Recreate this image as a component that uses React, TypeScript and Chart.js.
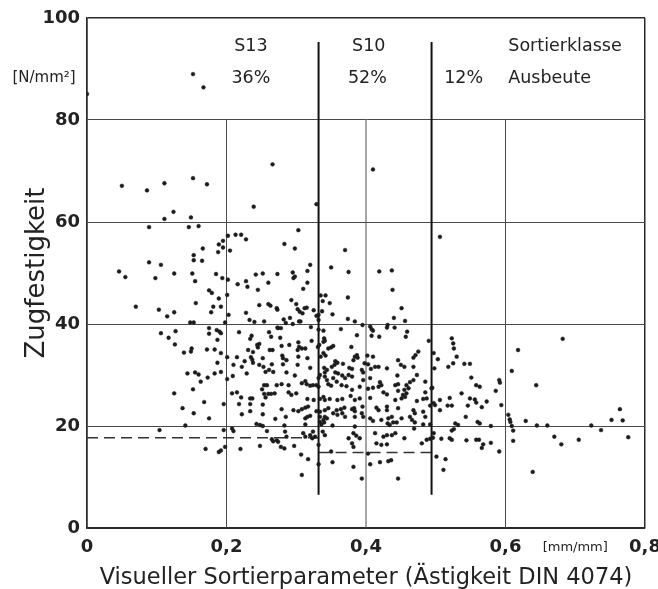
import { useEffect, useRef } from "react";
import { Chart, registerables } from "chart.js";

Chart.register(...registerables);

// ---- axis ticks ----
const xTickValues = [0, 0.2, 0.4, 0.6, 0.8];
const xTickLabels = ["0", "0,2", "0,4", "0,6", "0,8"];
const yTickValues = [0, 20, 40, 60, 80, 100];

// ---- grading classes ----
const classNames = ["S13", "S10", "Sortierklasse"];
const classYields = ["36%", "52%", "12%", "Ausbeute"];
const classBoundaries = [0.332, 0.494];
const boundaryRange = [6.5, 95.3];
const partialGridX = [0.2, 0.4, 0.6];
const partialGridTop = 80;
const limitS13 = [0, 0.332, 17.7]; // from x, to x, strength
const limitS10 = [0.332, 0.494, 14.8];

// ---- measured specimens [knot ratio, tensile strength] ----
const scatterTop: [number, number][] = [
  [0, 85.1], [0.152, 89.0], [0.167, 86.4], [0.266, 71.3], [0.41, 70.3], [0.329, 63.5], [0.239, 63.0],
  [0.05, 67.1], [0.086, 66.2], [0.111, 67.6], [0.152, 68.6], [0.172, 67.4], [0.124, 62.0], [0.111, 60.6],
  [0.149, 60.9], [0.089, 59.0], [0.146, 59.0], [0.16, 59.2], [0.303, 58.4], [0.506, 57.1], [0.202, 57.3],
  [0.213, 57.5], [0.221, 57.5], [0.228, 56.6], [0.195, 56.3], [0.189, 55.6], [0.195, 55.0], [0.166, 54.8],
  [0.188, 54.1], [0.205, 54.4], [0.283, 55.7], [0.298, 54.8], [0.37, 54.5],
];

const scatterLeft: [number, number][] = [
  [0.153, 53.5], [0.153, 52.5], [0.165, 52.4], [0.089, 52.1], [0.106, 51.6], [0.046, 50.3], [0.055, 49.2],
  [0.098, 49.0], [0.125, 49.9], [0.151, 49.9], [0.155, 48.4], [0.185, 49.8], [0.194, 49.0], [0.202, 48.7],
  [0.216, 47.8], [0.228, 48.4], [0.23, 47.3], [0.242, 49.7], [0.252, 49.9], [0.26, 48.1], [0.273, 49.8],
  [0.245, 46.7], [0.175, 46.6], [0.179, 46.1], [0.189, 45.0], [0.201, 45.7], [0.07, 43.4], [0.103, 42.8],
  [0.125, 42.3], [0.115, 41.5], [0.156, 44.1], [0.181, 43.4], [0.192, 43.4], [0.178, 42.3], [0.203, 41.8],
  [0.228, 42.2], [0.247, 43.7], [0.26, 43.9], [0.273, 42.8], [0.233, 40.8], [0.24, 40.4], [0.254, 40.5],
  [0.148, 40.3], [0.153, 40.3], [0.198, 40.3], [0.263, 43.6],
];

const scatterCentreHigh: [number, number][] = [
  [0.32, 51.6], [0.35, 51.1], [0.295, 50.1], [0.298, 49.3], [0.296, 49.0], [0.316, 50.4], [0.375, 50.2],
  [0.419, 50.3], [0.437, 50.5], [0.31, 46.9], [0.316, 48.1], [0.438, 46.7], [0.335, 45.6], [0.342, 45.6],
  [0.374, 45.2], [0.338, 44.5], [0.348, 44.1], [0.272, 43.1], [0.293, 44.7], [0.3, 43.9], [0.302, 42.9],
  [0.305, 42.4], [0.309, 42.1], [0.312, 43.1], [0.325, 42.7], [0.332, 41.8], [0.352, 41.9], [0.374, 41.0],
  [0.451, 43.1], [0.44, 41.2], [0.456, 40.6], [0.282, 40.9], [0.291, 41.2], [0.304, 40.5], [0.306, 40.5],
  [0.285, 40.2], [0.295, 40.0], [0.332, 40.8], [0.321, 39.4], [0.332, 38.9], [0.339, 38.7], [0.364, 39.0],
  [0.384, 40.5], [0.395, 39.8], [0.406, 39.5], [0.408, 39.0], [0.41, 38.7], [0.419, 37.5], [0.431, 39.8],
  [0.43, 39.3], [0.441, 39.3], [0.459, 38.5], [0.457, 37.5], [0.523, 37.2], [0.315, 43.2], [0.337, 42.5],
  [0.329, 41.6], [0.274, 39.2], [0.278, 39.2], [0.277, 37.3], [0.34, 37.2], [0.341, 36.7], [0.339, 36.5],
  [0.322, 36.7], [0.408, 37.7], [0.387, 37.8], [0.49, 36.7], [0.525, 36.2], [0.526, 35.2], [0.682, 37.1],
];

const scatterLeftLow: [number, number][] = [
  [0.126, 36.0], [0.175, 39.2], [0.175, 38.1], [0.186, 38.8], [0.19, 38.5], [0.192, 38.2], [0.187, 36.9],
  [0.218, 38.4], [0.236, 37.7], [0.234, 37.1], [0.244, 35.9], [0.247, 36.1], [0.261, 38.4], [0.264, 37.5],
  [0.106, 38.2], [0.117, 37.3], [0.127, 38.6], [0.273, 39.3], [0.139, 34.4], [0.15, 35.2], [0.149, 34.6],
  [0.172, 35.0], [0.183, 35.0], [0.192, 34.3], [0.187, 32.4], [0.201, 33.5], [0.215, 33.5], [0.226, 32.7],
  [0.231, 34.9], [0.238, 34.5], [0.235, 33.5], [0.237, 33.0], [0.238, 32.4], [0.252, 33.3], [0.266, 34.9],
  [0.265, 32.1], [0.21, 32.0], [0.222, 31.6], [0.253, 31.6], [0.256, 30.6], [0.261, 31.0], [0.267, 30.6],
  [0.144, 30.3], [0.155, 30.5], [0.16, 30.1], [0.163, 28.7], [0.173, 29.5], [0.183, 30.3], [0.192, 30.6],
  [0.201, 29.2], [0.209, 29.8], [0.229, 30.3], [0.254, 28.0], [0.258, 28.0], [0.251, 27.2], [0.125, 26.4],
  [0.152, 27.2], [0.208, 26.4], [0.215, 26.6], [0.221, 25.6], [0.234, 25.4], [0.237, 25.4], [0.254, 26.3],
  [0.26, 26.3], [0.264, 26.3], [0.269, 26.4], [0.256, 25.6], [0.168, 24.7], [0.196, 24.3], [0.218, 24.3],
  [0.234, 24.3], [0.252, 24.2], [0.137, 23.5], [0.153, 22.5], [0.175, 21.5], [0.222, 22.3], [0.234, 22.9],
  [0.252, 22.3], [0.27, 21.4], [0.141, 20.1], [0.243, 20.4], [0.248, 20.2], [0.252, 20.0], [0.258, 19.0],
  [0.104, 19.2], [0.196, 19.2], [0.208, 19.5], [0.21, 19.0], [0.265, 17.4], [0.267, 17.0], [0.272, 17.2],
  [0.17, 15.5], [0.189, 14.9], [0.192, 15.2], [0.198, 15.9], [0.22, 15.5], [0.248, 16.1], [0.245, 35.4],
  [0.262, 34.9], [0.247, 32.0], [0.274, 16.9], [0.278, 15.9],
];

const scatterCentre: [number, number][] = [
  [0.279, 35.7], [0.29, 35.9], [0.303, 36.4], [0.304, 35.5], [0.308, 35.2], [0.302, 34.9], [0.313, 35.2],
  [0.331, 35.5], [0.333, 35.9], [0.346, 35.2], [0.35, 35.4], [0.353, 35.7], [0.379, 35.5], [0.339, 34.3],
  [0.342, 33.8], [0.335, 33.6], [0.28, 33.8], [0.281, 33.3], [0.286, 32.9], [0.303, 33.6], [0.316, 33.3],
  [0.356, 32.7], [0.359, 32.4], [0.367, 32.2], [0.355, 32.0], [0.351, 31.6], [0.384, 33.6], [0.382, 32.9],
  [0.376, 31.4], [0.38, 31.2], [0.281, 32.1], [0.302, 32.0], [0.32, 31.4], [0.34, 31.4], [0.344, 31.0],
  [0.341, 30.5], [0.356, 30.5], [0.36, 30.3], [0.366, 29.9], [0.375, 30.0], [0.38, 29.7], [0.286, 30.5],
  [0.298, 29.9], [0.313, 28.8], [0.334, 30.0], [0.332, 29.4], [0.341, 29.7], [0.344, 29.0], [0.353, 29.4],
  [0.358, 28.7], [0.37, 29.4], [0.272, 28.0], [0.279, 28.2], [0.289, 28.0], [0.308, 28.4], [0.315, 28.2],
  [0.32, 27.9], [0.324, 28.0], [0.329, 28.0], [0.332, 27.7], [0.346, 28.2], [0.35, 27.9], [0.365, 28.0],
  [0.372, 27.8], [0.38, 27.1], [0.289, 26.6], [0.293, 26.1], [0.3, 26.4], [0.316, 25.3], [0.325, 25.1],
  [0.334, 25.3], [0.339, 25.7], [0.341, 25.1], [0.348, 25.3], [0.359, 25.1], [0.366, 25.3], [0.378, 25.9],
  [0.384, 25.1], [0.279, 23.3], [0.296, 23.1], [0.303, 22.9], [0.308, 23.3], [0.313, 23.6], [0.317, 23.8],
  [0.329, 22.9], [0.334, 22.8], [0.341, 23.1], [0.346, 23.5], [0.358, 23.1], [0.364, 23.3], [0.369, 23.6],
  [0.38, 23.3], [0.383, 23.5], [0.285, 21.8], [0.313, 21.5], [0.316, 21.8], [0.32, 22.0], [0.334, 21.8],
  [0.339, 21.2], [0.341, 21.8], [0.344, 21.5], [0.353, 22.5], [0.359, 22.2], [0.366, 22.5], [0.37, 21.8],
  [0.384, 22.9], [0.384, 21.8], [0.283, 20.1], [0.313, 20.3], [0.334, 20.8], [0.336, 20.3], [0.34, 20.7],
  [0.352, 20.1], [0.384, 19.9], [0.284, 18.9], [0.286, 17.9], [0.31, 18.6], [0.313, 17.9], [0.32, 18.2],
  [0.324, 18.9], [0.327, 17.9], [0.323, 17.6], [0.338, 18.9], [0.341, 18.2], [0.375, 17.6], [0.382, 18.6],
  [0.386, 18.1], [0.283, 15.6], [0.297, 16.1], [0.332, 16.3], [0.38, 16.6], [0.382, 15.9], [0.35, 15.0],
  [0.307, 14.4], [0.317, 13.5], [0.352, 12.9], [0.332, 12.5], [0.382, 12.0], [0.308, 10.4],
];

const scatterRightCentre: [number, number][] = [
  [0.387, 33.9], [0.388, 33.4], [0.402, 33.8], [0.41, 33.6], [0.471, 33.9], [0.475, 34.6], [0.468, 33.4],
  [0.497, 34.3], [0.503, 33.1], [0.53, 33.6], [0.446, 32.9], [0.398, 32.3], [0.403, 32.1], [0.413, 31.6],
  [0.418, 31.6], [0.407, 31.2], [0.43, 31.3], [0.45, 32.0], [0.455, 31.6], [0.468, 31.6], [0.498, 31.3],
  [0.518, 31.6], [0.525, 32.3], [0.394, 31.0], [0.396, 30.5], [0.445, 29.9], [0.473, 30.0], [0.396, 29.0],
  [0.406, 29.4], [0.42, 28.6], [0.422, 28.0], [0.442, 28.0], [0.446, 28.2], [0.458, 28.0], [0.463, 28.6],
  [0.468, 29.0], [0.485, 28.7], [0.495, 27.5], [0.391, 27.7], [0.403, 27.3], [0.41, 27.5], [0.418, 27.7],
  [0.425, 26.6], [0.43, 26.2], [0.446, 26.9], [0.455, 27.1], [0.461, 27.4], [0.458, 26.4], [0.453, 26.1],
  [0.485, 26.6], [0.494, 27.4], [0.391, 25.4], [0.406, 25.5], [0.442, 25.1], [0.451, 25.4], [0.456, 25.7],
  [0.473, 24.9], [0.482, 25.3], [0.487, 25.4], [0.506, 25.1], [0.52, 25.5], [0.395, 23.8], [0.415, 23.6],
  [0.418, 23.1], [0.43, 23.8], [0.43, 23.1], [0.446, 23.5], [0.468, 23.1], [0.47, 22.5], [0.482, 22.8],
  [0.485, 21.8], [0.492, 24.0], [0.497, 24.5], [0.499, 24.1], [0.506, 23.1], [0.517, 24.0], [0.523, 24.0],
  [0.394, 22.5], [0.396, 21.8], [0.406, 21.5], [0.41, 21.0], [0.422, 21.2], [0.432, 21.5], [0.437, 21.8],
  [0.431, 20.5], [0.434, 20.2], [0.444, 20.7], [0.439, 20.7], [0.451, 21.5], [0.463, 21.8], [0.466, 21.2],
  [0.47, 20.7], [0.482, 20.3], [0.492, 20.3], [0.528, 20.5], [0.532, 20.2], [0.391, 17.6], [0.413, 18.6],
  [0.425, 17.9], [0.43, 18.2], [0.437, 18.2], [0.442, 18.6], [0.455, 17.6], [0.469, 19.5], [0.487, 17.3],
  [0.492, 17.5], [0.497, 18.6], [0.496, 17.7], [0.508, 17.5], [0.52, 17.6], [0.523, 17.3], [0.415, 16.6],
  [0.422, 16.3], [0.43, 16.4], [0.48, 16.6], [0.403, 14.6], [0.406, 12.5], [0.42, 12.9], [0.432, 13.1],
  [0.436, 13.3], [0.501, 14.0], [0.514, 13.5], [0.511, 11.4], [0.394, 9.7], [0.446, 9.7],
];

const scatterRight: [number, number][] = [
  [0.618, 34.9], [0.609, 30.8], [0.644, 28.0], [0.541, 32.2], [0.549, 32.2], [0.551, 29.5], [0.558, 28.0],
  [0.563, 27.7], [0.537, 26.4], [0.549, 25.4], [0.556, 25.2], [0.558, 24.6], [0.573, 24.8], [0.586, 26.9],
  [0.591, 29.0], [0.592, 28.5], [0.594, 24.1], [0.546, 24.0], [0.566, 23.7], [0.543, 21.8], [0.56, 20.8],
  [0.563, 20.5], [0.604, 22.2], [0.606, 21.3], [0.607, 20.8], [0.629, 21.0], [0.526, 19.4], [0.523, 19.1],
  [0.579, 20.0], [0.645, 20.1], [0.66, 20.1], [0.609, 20.0], [0.611, 19.1], [0.723, 20.1], [0.737, 19.2],
  [0.752, 21.2], [0.768, 21.1], [0.764, 23.3], [0.776, 17.8], [0.544, 17.2], [0.558, 17.3], [0.562, 17.3],
  [0.568, 16.4], [0.566, 15.7], [0.579, 16.7], [0.591, 15.0], [0.611, 17.1], [0.67, 17.9], [0.68, 16.4],
  [0.705, 17.3], [0.639, 11.0],
];

const INK = "#1c1c1c";
const GRID = "#4a4a4a";

const annotationPlugin = {
  id: "gradeAnnotations",
  afterDatasetsDraw(chart: any) {
    const { ctx, scales, chartArea } = chart;
    const xs = scales.x;
    const ys = scales.y;
    const rowTop = ys.getPixelForValue(94.5);
    const rowBottom = ys.getPixelForValue(88.2);
    ctx.save();
    ctx.fillStyle = "#222";
    ctx.textBaseline = "middle";
    ctx.font = '17.5px "DejaVu Sans"';
    ctx.textAlign = "center";
    ctx.fillText(classNames[0], xs.getPixelForValue(0.235), rowTop);
    ctx.fillText(classNames[1], xs.getPixelForValue(0.404), rowTop);
    ctx.fillText(classYields[0], xs.getPixelForValue(0.235), rowBottom);
    ctx.fillText(classYields[1], xs.getPixelForValue(0.402), rowBottom);
    ctx.fillText(classYields[2], xs.getPixelForValue(0.54), rowBottom);
    ctx.textAlign = "left";
    ctx.fillText(classNames[2], xs.getPixelForValue(0.604), rowTop);
    ctx.fillText(classYields[3], xs.getPixelForValue(0.604), rowBottom);
    // units
    ctx.textAlign = "center";
    ctx.font = '15px "DejaVu Sans"';
    ctx.fillText("[N/mm²]", chartArea.left - 43, rowBottom);
    ctx.font = '13px "DejaVu Sans"';
    ctx.fillText("[mm/mm]", xs.getPixelForValue(0.7), chartArea.bottom + 20);
    ctx.restore();
  },
};

function segment(x1: number, y1: number, x2: number, y2: number, color: string, width: number, dash: number[] = [], order = 5) {
  return {
    type: "line" as const,
    data: [{ x: x1, y: y1 }, { x: x2, y: y2 }],
    borderColor: color,
    borderWidth: width,
    borderDash: dash,
    pointRadius: 0,
    showLine: true,
    fill: false,
    order,
  };
}

export default function App() {
  const canvasRef = useRef<HTMLCanvasElement | null>(null);

  useEffect(() => {
    if (!canvasRef.current) return;
    const allPoints = [
      ...scatterTop, ...scatterLeft, ...scatterCentreHigh, ...scatterLeftLow,
      ...scatterCentre, ...scatterRightCentre, ...scatterRight,
    ].map(([x, y]) => ({ x, y }));

    const datasets: any[] = [
      {
        type: "scatter",
        data: allPoints,
        backgroundColor: INK,
        borderColor: INK,
        borderWidth: 0.5,
        pointRadius: 1.9,
        order: 0,
      },
      ...partialGridX.map((gx) => segment(gx, 0, gx, partialGridTop, GRID, 1, [], 6)),
      ...classBoundaries.map((bx) => segment(bx, boundaryRange[0], bx, boundaryRange[1], "#111", 2, [], 3)),
      segment(limitS13[0], limitS13[2], limitS13[1], limitS13[2], "#333", 1.5, [11, 6], 4),
      segment(limitS10[0], limitS10[2], limitS10[1], limitS10[2], "#333", 1.5, [11, 6], 4),
    ];

    const chart = new Chart(canvasRef.current, {
      type: "scatter",
      data: { datasets },
      options: {
        animation: false,
        responsive: false,
        devicePixelRatio: 1,
        layout: { padding: { top: 18, right: 13, left: 0, bottom: 0 } },
        plugins: { legend: { display: false }, tooltip: { enabled: false } },
        scales: {
          x: {
            type: "linear",
            min: 0,
            max: 0.8,
            afterBuildTicks: (s: any) => {
              s.ticks = xTickValues.map((v) => ({ value: v }));
            },
            afterFit: (s: any) => {
              s.height = 61;
              s.paddingLeft = 0;
              s.paddingRight = 0;
            },
            ticks: {
              autoSkip: false,
              maxRotation: 0,
              padding: 9,
              color: "#222",
              font: { family: "DejaVu Sans", size: 18, weight: "bold" },
              callback: (_v: any, i: number) => xTickLabels[i],
            },
            grid: {
              drawTicks: false,
              color: (c: any) => (c.index === 0 || c.index === xTickValues.length - 1 ? "#2a2a2a" : "rgba(0,0,0,0)"),
              lineWidth: 1.5,
            },
            border: { display: true, color: "#2a2a2a", width: 1.5 },
            title: {
              display: true,
              text: "Visueller Sortierparameter (Ästigkeit DIN 4074)",
              color: "#222",
              font: { family: "DejaVu Sans", size: 22.5, lineHeight: 1 },
              padding: { top: 0, bottom: 0 },
            },
          },
          y: {
            type: "linear",
            min: 0,
            max: 100,
            afterBuildTicks: (s: any) => {
              s.ticks = yTickValues.map((v) => ({ value: v }));
            },
            afterFit: (s: any) => {
              s.width = 87;
              s.paddingTop = 0;
              s.paddingBottom = 0;
            },
            ticks: {
              padding: 7,
              color: "#222",
              font: { family: "DejaVu Sans", size: 18, weight: "bold" },
              callback: (v: any) => String(v),
            },
            grid: {
              drawTicks: false,
              color: (c: any) => (c.index === 0 || c.index === yTickValues.length - 1 ? "#2a2a2a" : GRID),
              lineWidth: (c: any) => (c.index === yTickValues.length - 1 ? 1.5 : 1),
            },
            border: { display: true, color: "#2a2a2a", width: 1.5 },
            title: {
              display: true,
              text: "Zugfestigkeit",
              color: "#222",
              font: { family: "DejaVu Sans", size: 26 },
              padding: { top: 22, bottom: 0 },
            },
          },
        },
      },
      plugins: [annotationPlugin],
    });
    return () => chart.destroy();
  }, []);

  return (
    <div style={{ position: "fixed", left: 0, top: 0, width: 658, height: 589, background: "#fff" }}>
      <canvas ref={canvasRef} width={658} height={589} style={{ display: "block" }} />
    </div>
  );
}
